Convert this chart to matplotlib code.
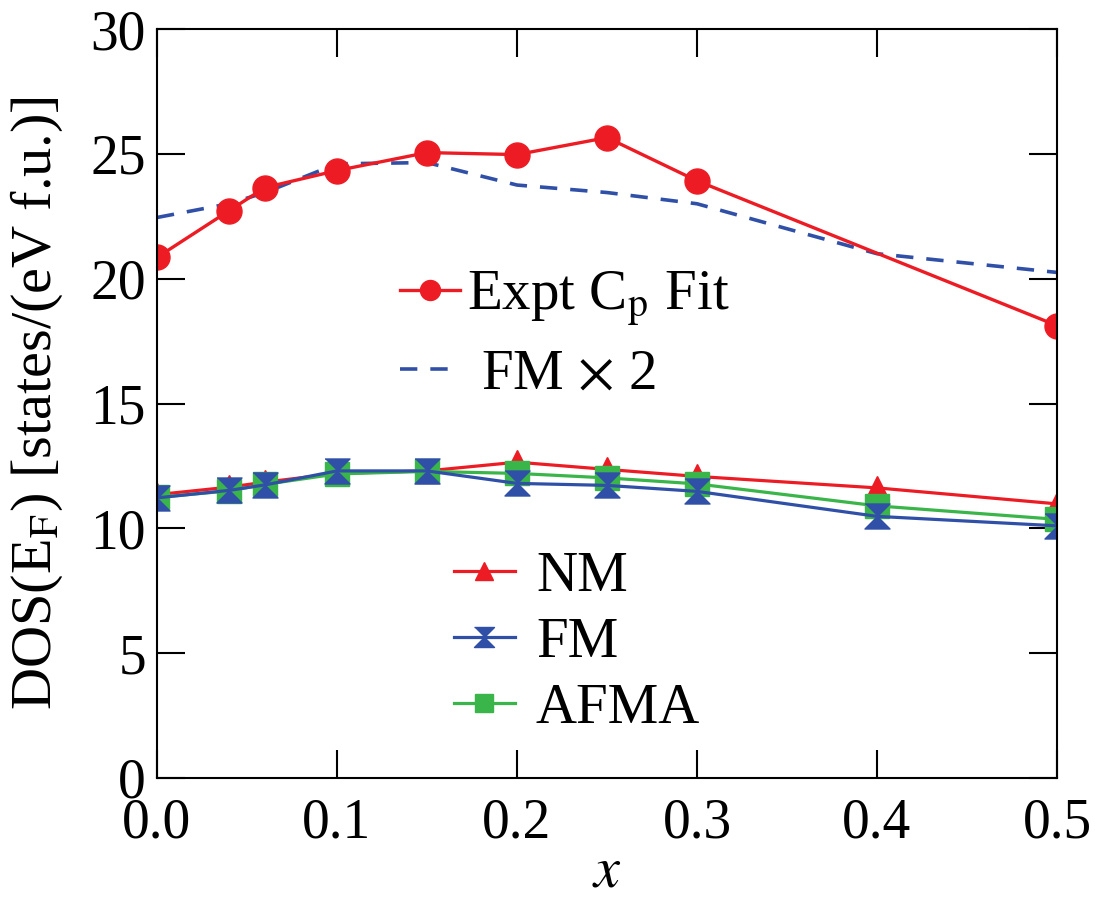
import matplotlib
matplotlib.use("Agg")
import matplotlib.pyplot as plt

x_calc = [0.0, 0.04, 0.06, 0.1, 0.15, 0.2, 0.25, 0.3, 0.4, 0.5]
nm = [11.35, 11.65, 11.85, 12.2, 12.3, 12.65, 12.36, 12.08, 11.62, 10.98]
fm = [11.22, 11.52, 11.74, 12.3, 12.3, 11.8, 11.72, 11.48, 10.48, 10.1]
afma = [11.24, 11.5, 11.76, 12.18, 12.28, 12.2, 12.02, 11.78, 10.9, 10.36]
fm_x2 = [22.45, 23.0, 23.45, 24.6, 24.65, 23.75, 23.45, 23.0, 21.0, 20.25]
x_expt = [0.0, 0.04, 0.06, 0.1, 0.15, 0.2, 0.25, 0.3, 0.5]
expt = [20.85, 22.72, 23.65, 24.33, 25.05, 24.97, 25.65, 23.92, 18.12]

RED = "#ED1C24"
BLUE = "#3050A8"
GREEN = "#3AB54A"

plt.rcParams['font.family'] = ['Liberation Serif', 'DejaVu Serif']
plt.rcParams['mathtext.fontset'] = 'stix'

fig = plt.figure(figsize=(10.95, 9.07), dpi=100)
ax = fig.add_axes([157 / 1095, 1 - 778 / 907, 900 / 1095, 749 / 907])

hourglass = [(-1, 1), (1, 1), (0, 0), (1, -1), (-1, -1), (0, 0)]

l_fmx2, = ax.plot(x_calc, fm_x2, color=BLUE, lw=2.6, dashes=(4.8, 3.6))
l_expt, = ax.plot(x_expt, expt, '-o', color=RED, lw=2.4, ms=18, mec=RED)
l_nm, = ax.plot(x_calc, nm, '-^', color=RED, lw=2.3, ms=17, mec=RED)
l_afma, = ax.plot(x_calc, afma, '-s', color=GREEN, lw=2.3, ms=17, mec=GREEN)
l_fm, = ax.plot(x_calc, fm, '-', marker=hourglass, color=BLUE, lw=2.3, ms=18, mec=BLUE)

ax.set_xlim(0, 0.5)
ax.set_ylim(0, 30)
ax.set_xticks([0.0, 0.1, 0.2, 0.3, 0.4, 0.5])
ax.set_xticklabels(["0.0", "0.1", "0.2", "0.3", "0.4", "0.5"])
ax.set_yticks([0, 5, 10, 15, 20, 25, 30])
ax.tick_params(direction='in', length=20, width=1.5, labelsize=40,
               top=True, right=True)
ax.tick_params(axis='x', pad=14)
ax.tick_params(axis='y', pad=8)
for s in ax.spines.values():
    s.set_linewidth(1.5)

ax.set_xlabel("$x$", fontsize=42, labelpad=-2)
ax.set_ylabel("DOS(E$_\\mathrm{F}$) [states/(eV f.u.)]", fontsize=42, labelpad=18)

leg1 = ax.legend([l_expt, l_fmx2], ["Expt C$_\\mathrm{p}$ Fit", " FM $\\times$ 2"],
                 loc='center left', bbox_to_anchor=((400 - 157) / 900, (778 - 335) / 749),
                 frameon=False, borderpad=0, borderaxespad=0,
                 fontsize=41, handlelength=1.05, handletextpad=0.12,
                 labelspacing=0.35, markerscale=0.8)
ax.add_artist(leg1)
ax.legend([l_nm, l_fm, l_afma], ["NM", "FM", "AFMA"],
          loc='center left', bbox_to_anchor=((454 - 157) / 900, (778 - 643) / 749),
          frameon=False, borderpad=0, borderaxespad=0,
          fontsize=41, handlelength=1.07, handletextpad=0.37,
          labelspacing=0.25, markerscale=0.8)

fig.savefig("out.png", dpi=100)
